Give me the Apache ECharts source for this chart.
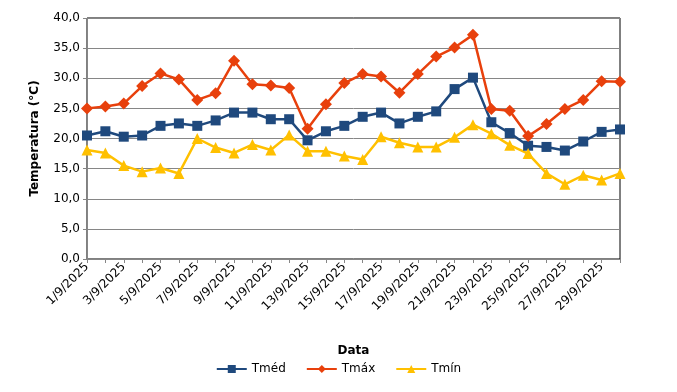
<!DOCTYPE html>
<html><head><meta charset="utf-8">
<script src="https://cdn.jsdelivr.net/npm/echarts@6/dist/echarts.min.js"></script>
<style>html,body{margin:0;padding:0;background:#fff}#c{width:677px;height:392px}</style>
</head><body><div id="c"></div>
<script>
var categories = [];
for (var d = 1; d <= 30; d++) categories.push(d + '/9/2025');
var tmed = [20.5,21.2,20.3,20.5,22.1,22.5,22.1,23.0,24.3,24.3,23.2,23.2,19.7,21.2,22.1,23.6,24.3,22.5,23.6,24.5,28.2,30.1,22.7,20.9,18.8,18.6,18.0,19.5,21.1,21.5];
var tmax = [25.0,25.3,25.8,28.7,30.8,29.8,26.4,27.5,32.9,29.0,28.8,28.4,21.6,25.7,29.2,30.7,30.3,27.6,30.7,33.6,35.1,37.2,24.9,24.6,20.4,22.4,24.9,26.4,29.5,29.4];
var tmin = [18.1,17.6,15.5,14.5,15.1,14.2,20.0,18.5,17.6,19.0,18.1,20.6,17.9,17.9,17.1,16.5,20.3,19.3,18.6,18.6,20.2,22.3,20.8,18.9,17.5,14.2,12.4,13.9,13.1,14.2];

var font = 'DejaVu Sans';
var chart = echarts.init(document.getElementById('c'));
chart.setOption({
  animation: false,
  textStyle: {fontFamily: font},
  grid: {left: 87, right: 57, top: 18, bottom: 133, show: true, borderColor: '#000', borderWidth: 1, containLabel: false},
  legend: {
    bottom: 12, left: 'center', itemWidth: 30, itemHeight: 10, itemGap: 20,
    textStyle: {fontFamily: font, fontSize: 12, color: '#000'},
    data: ['Tméd', 'Tmáx', 'Tmín']
  },
  xAxis: {
    type: 'category', data: categories, boundaryGap: false,
    name: 'Data', nameLocation: 'middle', nameGap: 86,
    nameTextStyle: {fontFamily: font, fontSize: 12, fontWeight: 'bold', color: '#000'},
    axisLine: {lineStyle: {color: '#868686', width: 1}},
    axisTick: {show: true, interval: 0, length: 4, lineStyle: {color: '#868686'}},
    axisLabel: {interval: 1, rotate: 45, fontFamily: font, fontSize: 12, color: '#000', margin: 6},
    splitLine: {show: false}
  },
  yAxis: {
    type: 'value', min: 0, max: 40, interval: 5,
    name: 'Temperatura (°C)', nameLocation: 'middle', nameGap: 46,
    nameTextStyle: {fontFamily: font, fontSize: 12, fontWeight: 'bold', color: '#000'},
    axisLine: {show: true, lineStyle: {color: '#868686', width: 1}},
    axisTick: {show: true, length: 4, lineStyle: {color: '#868686'}},
    axisLabel: {fontFamily: font, fontSize: 12, color: '#000', margin: 7,
      formatter: function (v) { return v.toFixed(1).replace('.', ','); }},
    splitLine: {show: true, lineStyle: {color: '#868686', width: 1}}
  },
  series: [
    {name: 'Tméd', type: 'line', data: tmed, symbol: 'rect', symbolSize: 10, showAllSymbol: true,
     itemStyle: {color: '#1F497D'}, lineStyle: {color: '#1F497D', width: 2.5}},
    {name: 'Tmáx', type: 'line', data: tmax, symbol: 'diamond', symbolSize: 12, showAllSymbol: true,
     itemStyle: {color: '#E8400C'}, lineStyle: {color: '#E8400C', width: 2.5}},
    {name: 'Tmín', type: 'line', data: tmin, symbol: 'triangle', symbolSize: 11, showAllSymbol: true,
     itemStyle: {color: '#FFC000'}, lineStyle: {color: '#FFC000', width: 2.5}}
  ]
});
</script></body></html>
